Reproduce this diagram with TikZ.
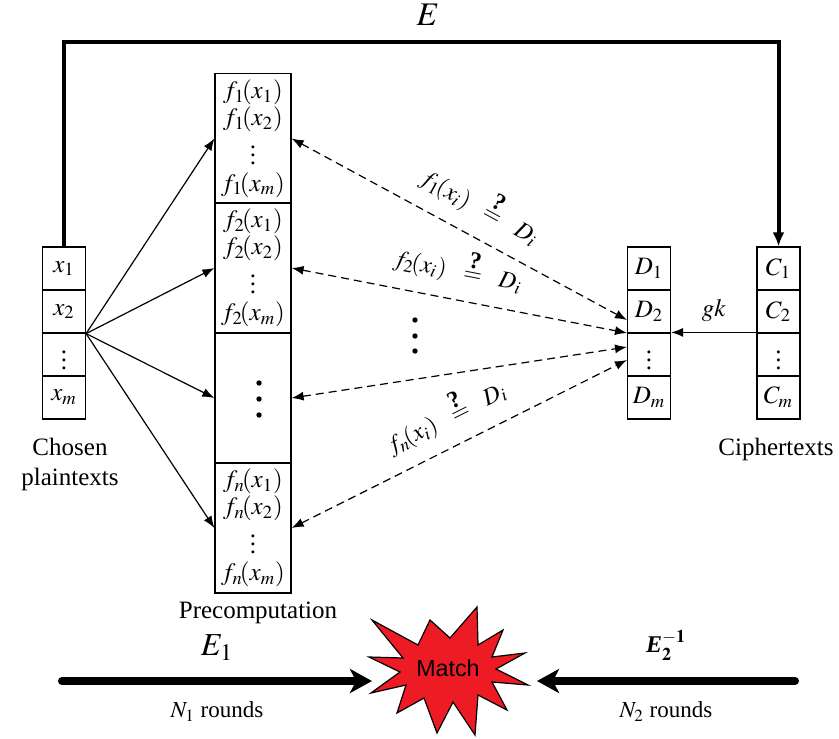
\documentclass[tikz,border=0pt]{standalone}
\usepackage{mathptmx}
\usepackage[no-math]{fontspec}
\setmainfont{Liberation Serif}
\newfontfamily\matchfont{Liberation Sans}
\usetikzlibrary{arrows.meta}
\definecolor{matchred}{RGB}{237,28,36}
\newcommand\qeq{\mathrel{\vbox{\offinterlineskip\halign{\hfil##\hfil\cr\textbf{?}\cr\noalign{\kern2pt}$=$\cr}}}}
\newcommand\fx[2]{f_{#1}\mkern-2mu(x_{#2})}

\begin{document}
\begin{tikzpicture}[x=0.5pt,y=-0.5pt,>={Latex[length=6pt,width=4.5pt]},
		cell/.style={draw,line width=0.6pt,minimum width=21.5pt,minimum height=21.5pt,inner sep=0pt,font=\fontsize{12.5}{14}\selectfont},
		blk/.style={draw,line width=0.6pt,minimum width=38pt,minimum height=65pt,inner sep=0pt,align=center,font=\fontsize{12.5}{13.5}\selectfont},
		lbl/.style={align=center,font=\fontsize{12.5}{15}\selectfont},
		cmp/.style={sloped,above=4pt,font=\fontsize{12}{14}\selectfont},
		thin/.style={line width=0.6pt},
		cmpline/.style={line width=0.6pt,dash pattern=on 4pt off 2.5pt,<->},
		thickarrow/.style={line width=4pt,line cap=round,-{Stealth[length=11pt,width=12pt,inset=3pt]}}]
			\useasboundingbox (0,0) rectangle (839,738);
			\node[cell] (x1) at (64,268.5) {$x_1$};
			\node[cell] (x2) at (64,311.5) {$x_2$};
			\node[cell] (x3) at (64,354.5) {$\vdots$};
			\node[cell] (xm) at (64,397.5) {$x_m$};
			\node[lbl] (chosen) at (70,464) {Chosen\\plaintexts};
			\node[cell] (d1) at (649,268.5) {$D_1$};
			\node[cell] (d2) at (649,311.5) {$D_2$};
			\node[cell] (d3) at (649,354.5) {$\vdots$};
			\node[cell] (dm) at (649,397.5) {$D_m$};
			\node[cell] (c1) at (778.5,268.5) {$C_1$};
			\node[cell] (c2) at (778.5,311.5) {$C_2$};
			\node[cell] (c3) at (778.5,354.5) {$\vdots$};
			\node[cell] (cm) at (778.5,397.5) {$C_m$};
			\node[lbl] (cipher) at (776,449) {Ciphertexts};
			\node[blk] (p1) at (253,138.5) {$\fx{1}{1}$\\$\fx{1}{2}$\\$\vdots$\\$\fx{1}{m}$};
			\node[blk] (p2) at (253,268) {$\fx{2}{1}$\\$\fx{2}{2}$\\$\vdots$\\$\fx{2}{m}$};
			\node[blk] (p3) at (253,398) {};
			\node[blk] (p4) at (253,528) {$\fx{n}{1}$\\$\fx{n}{2}$\\$\vdots$\\$\fx{n}{m}$};
			\node[lbl] (precomp) at (258,613) {Precomputation};
			\fill (259,383) circle (1.35pt) (259,399) circle (1.35pt) (259,415) circle (1.35pt);
			\fill (415,320) circle (1.35pt) (415,336) circle (1.35pt) (415,351) circle (1.35pt);
			\coordinate (top) at (428,42);
			\node[font=\fontsize{16.5}{18}\selectfont] (e) at (428,15) {$E$};
			\draw[line width=2pt,-{Latex[length=7pt,width=6pt]}] (x1.north) |- (top) -| (c1.north);
			\draw[thin,->] (x2.south east) -- (p1.west);
			\draw[thin,->] (x2.south east) -- (p2.west);
			\draw[thin,->] (x2.south east) -- (p3.west);
			\draw[thin,->] (x2.south east) -- (p4.west);
			\coordinate (t1) at (627,320);
			\coordinate (t2) at (627,333);
			\coordinate (t3) at (627,347);
			\coordinate (t4) at (627,360);
			\draw[cmpline] (p1.east) -- node[cmp,pos=0.52] {$\fx{1}{i}\ \ \qeq\ \ D_i$} (t1);
			\draw[cmpline] (p2.east) -- node[cmp,pos=0.48] {$\fx{2}{i}\ \ \qeq\ \ D_i$} (t2);
			\draw[cmpline] (p3.east) -- (t3);
			\draw[cmpline] (p4.east) -- node[cmp,pos=0.5] {$\fx{n}{i}\ \ \qeq\ \ D_i$} (t4);
			\draw[thin,->] (c3.north west) -- node[above=2pt,font=\fontsize{12.5}{14}\selectfont] {$gk$} (d3.north east);
			\draw[thin,fill=matchred] (369,657) -- (403,658) -- (372,620) -- (418,645) -- (430,620) -- (450,638) -- (477,607) -- (478,645) -- (503,630) -- (492,657) -- (525,653) -- (496,669) -- (528,685) -- (492,682) -- (507,710) -- (478,695) -- (475,735) -- (453,702) -- (437,733) -- (424,698) -- (397,713) -- (406,685) -- (371,693) -- (400,672) -- cycle;
			\node[font=\matchfont\fontsize{11.6}{13}\selectfont] (match) at (448,668) {Match};
			\coordinate (l) at (62,681);
			\coordinate (lt) at (372,681);
			\coordinate (r) at (795,681);
			\coordinate (rt) at (537,681);
			\draw[thickarrow] (l) -- node[above=5pt,font=\fontsize{16}{18}\selectfont] {$E_1$} node[below=5pt,font=\fontsize{11.5}{13}\selectfont] {$N_1$ rounds} (lt);
			\draw[thickarrow] (r) -- node[above=5pt,font=\fontsize{12}{14}\selectfont] {$\textbf{\textit{E}}^{\mathbf{-1}}_{\mathbf{2}}$} node[below=5pt,font=\fontsize{11.5}{13}\selectfont] {$N_2$ rounds} (rt);
		\end{tikzpicture}
\end{document}
